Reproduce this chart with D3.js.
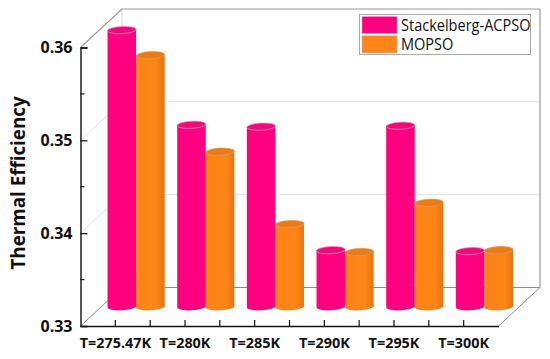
<!DOCTYPE html>
<html>
<head>
<meta charset="utf-8">
<script src="https://cdn.jsdelivr.net/npm/d3@7"></script>
<style>
  html, body { margin: 0; padding: 0; background: #fff; }
  svg { display: block; }
  text { font-family: "Open Sans", "Noto Sans", sans-serif; fill: #111; }
</style>
</head>
<body>
<svg id="chart" width="550" height="359"></svg>
<script>
// values
const categories = ["T=275.47K", "T=280K", "T=285K", "T=290K", "T=295K", "T=300K"];
const seriesNames = ["Stackelberg-ACPSO", "MOPSO"];
const acpsoValues = [0.3598, 0.3496, 0.3494, 0.3361, 0.3495, 0.3360];
const mopsoValues = [0.3571, 0.3467, 0.3389, 0.3359, 0.3412, 0.3361];
const yTicks = [0.33, 0.34, 0.35, 0.36];
const yMinorTicks = [0.335, 0.345, 0.355];

const svg = d3.select("#chart");

const x = d3.scaleBand().domain(categories).range([80.5, 498.5]).padding(0);
const y = d3.scaleLinear().domain([0.33, 0.36]).range([326, 47.5]);

// depth of the fake 3D box
const depthX = 41.5;
const depthY = -38.5;
const wallTop = 9;

// back walls and gridlines
const walls = svg.append("g");
yTicks.slice(1, 3).forEach(t => {
  walls.append("polyline")
    .attr("points", [[x.range()[0], y(t)], [x.range()[0] + depthX, y(t) + depthY], [x.range()[1] + depthX, y(t) + depthY]].join(" "))
    .attr("fill", "none").attr("stroke", "#e2e2e2").attr("stroke-width", 1);
});
walls.append("polyline")
  .attr("points", [
    [x.range()[0], y(0.33)], [x.range()[0] + depthX, y(0.33) + depthY], [x.range()[1] + depthX, y(0.33) + depthY], [x.range()[1], y(0.33)]
  ].join(" "))
  .attr("fill", "none").attr("stroke", "#8c8c8c").attr("stroke-width", 1);
walls.append("line")
  .attr("x1", x.range()[0] + depthX).attr("x2", x.range()[0] + depthX)
  .attr("y1", wallTop).attr("y2", y(0.33) + depthY)
  .attr("stroke", "#d8d8d8");
walls.append("polyline")
  .attr("points", [
    [x.range()[0], y(0.36)], [x.range()[0] + depthX, wallTop], [x.range()[1] + depthX, wallTop], [x.range()[1] + depthX, y(0.33) + depthY]
  ].join(" "))
  .attr("fill", "none").attr("stroke", "#9a9a9a").attr("stroke-width", 1.2);

// shading across the orange cylinder
const defs = svg.append("defs");
const orangeGrad = defs.append("linearGradient").attr("id", "orangeBody");
orangeGrad.append("stop").attr("offset", "0%").attr("stop-color", "#fb8417");
orangeGrad.append("stop").attr("offset", "70%").attr("stop-color", "#ff8518");
orangeGrad.append("stop").attr("offset", "100%").attr("stop-color", "#e8730f");

const barW = x.bandwidth() * 0.41;
const ry = 3.6;
const tilt = -3;
const midX = depthX / 2;
const midY = depthY / 2;

function drawBars(values, index, body, cap, rimColor) {
  const g = svg.append("g");
  categories.forEach((c, i) => {
    const left = x(c) + x.bandwidth() / 2 + midX + (index - 1) * barW;
    const cx = left + barW / 2;
    const top = y(values[i]) + midY;
    const bottom = y(0.33) + midY;
    g.append("rect").attr("x", left).attr("y", top).attr("width", barW).attr("height", bottom - top).attr("fill", body);
    g.append("ellipse").attr("cx", cx).attr("cy", bottom).attr("rx", barW / 2).attr("ry", ry)
      .attr("transform", `rotate(${tilt} ${cx} ${bottom})`).attr("fill", body);
    g.append("ellipse").attr("cx", cx).attr("cy", top).attr("rx", barW / 2).attr("ry", ry)
      .attr("transform", `rotate(${tilt} ${cx} ${top})`)
      .attr("fill", cap).attr("stroke", rimColor).attr("stroke-width", 0.7);
  });
}
drawBars(acpsoValues, 0, "#ff0080", "#ee0a7c", "#c9a3b5");
drawBars(mopsoValues, 1, "url(#orangeBody)", "#ef7a12", "#b9a58f");

// axes
const yAxis = svg.append("g").attr("transform", `translate(${x.range()[0]},0)`)
  .call(d3.axisRight(y).tickValues(yTicks).tickSize(7).tickFormat(d3.format(".2f")));
yAxis.select(".domain").attr("stroke", "#111").attr("stroke-width", 1.4);
yAxis.selectAll(".tick line").attr("stroke", "#111").attr("stroke-width", 1.2);
yAxis.selectAll(".tick text")
  .attr("x", -8).attr("text-anchor", "end")
  .style("font-size", "16px").style("font-weight", "700")
  .style("font-family", "'Open Sans', sans-serif");
yAxis.selectAll(".minor").data(yMinorTicks).enter().append("line")
  .attr("class", "minor").attr("x1", 0).attr("x2", 4)
  .attr("y1", d => y(d)).attr("y2", d => y(d))
  .attr("stroke", "#111").attr("stroke-width", 1.2);

const xAxis = svg.append("g").attr("transform", `translate(0,${y(0.33)})`)
  .call(d3.axisBottom(x).tickSize(-6).tickSizeOuter(0));
xAxis.select(".domain").attr("stroke", "#111").attr("stroke-width", 1.4);
xAxis.selectAll(".tick line").attr("stroke", "#111").attr("stroke-width", 1.2);
xAxis.selectAll(".tick text")
  .attr("y", 22).attr("dy", 0)
  .style("font-size", "14.4px").style("font-weight", "700")
  .style("font-family", "'Open Sans', sans-serif");
// second row of ticks sits on the boundaries between categories
xAxis.selectAll(".between").data(categories.slice(0, -1)).enter().append("line")
  .attr("class", "between")
  .attr("x1", d => x(d) + x.bandwidth()).attr("x2", d => x(d) + x.bandwidth())
  .attr("y1", 0).attr("y2", -6)
  .attr("stroke", "#111").attr("stroke-width", 1.2);

svg.append("text")
  .attr("transform", "translate(25,183) rotate(-90)")
  .attr("text-anchor", "middle")
  .style("font-size", "18.8px").style("font-weight", "700")
  .text("Thermal Efficiency");

// legend
const legend = svg.append("g");
legend.append("rect").attr("x", 359.5).attr("y", 14.5).attr("width", 171).attr("height", 40)
  .attr("fill", "#fff").attr("stroke", "#aaa");
[["#ff0080"], ["#ff8518"]].forEach((col, i) => {
  legend.append("rect").attr("x", 362).attr("y", 16.5 + i * 19.3).attr("width", 35).attr("height", 17.2)
    .attr("fill", col[0]).attr("stroke", "#bbb").attr("stroke-width", 0.5);
  const label = legend.append("text").attr("x", 401).attr("y", 31 + i * 19.3)
    .style("font-size", "16.5px").text(seriesNames[i]);
  // the original face is narrower than Open Sans, squeeze to the same width
  label.attr("lengthAdjust", "spacingAndGlyphs")
    .attr("textLength", label.node().getComputedTextLength() * 0.88);
});
</script>
</body>
</html>
